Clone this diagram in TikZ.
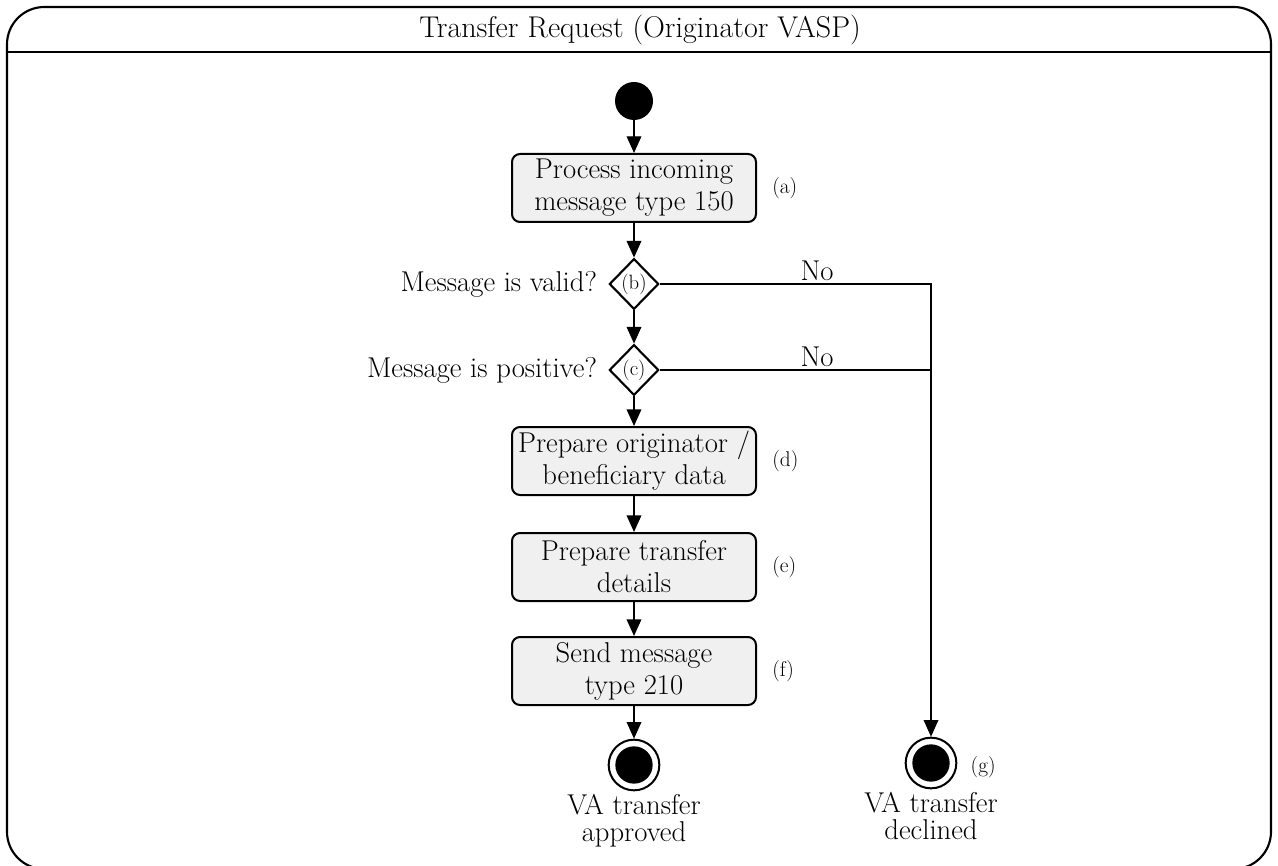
\documentclass[tikz,border=0pt]{standalone}
\usetikzlibrary{shapes.geometric,arrows.meta}
\begin{document}
\begin{tikzpicture}[x=0.75pt,y=-0.75pt,
  every node/.style={font=\fontsize{21.5}{24}\selectfont},
  flow/.style={line width=1pt,-{Triangle[width=11pt,length=12.5pt]}},
  plain/.style={line width=1pt},
  actbox/.style={draw,line width=1.5pt,rounded corners=6pt,fill=boxgray,
    minimum width=183pt,minimum height=51pt,align=center,inner sep=1pt},
  decide/.style={draw,diamond,line width=1.6pt,minimum width=37pt,minimum height=38pt,
    inner sep=0pt,font=\fontsize{15.5}{17}\selectfont},
  startdot/.style={circle,fill=black,minimum size=28.5pt,inner sep=0pt},
  endring/.style={circle,draw,line width=1.5pt,minimum size=38pt,inner sep=0pt},
  enddot/.style={circle,fill=black,minimum size=28pt,inner sep=0pt},
  tag/.style={font=\fontsize{16}{18}\selectfont,anchor=west},
  caption/.style={align=center,anchor=north,inner sep=1pt,font=\fontsize{21.5}{20.5}\selectfont}]
\definecolor{boxgray}{RGB}{240,240,240}
\useasboundingbox (0,0) rectangle (1278,866);
\clip (0,0) rectangle (1278,866);

% frame (its lower edge runs just past the page) and title
\draw[line width=1.6pt,rounded corners=28pt] (7,7) rectangle (1271,869);
\draw[line width=1pt] (7,52) -- (1271,52);
\node[font=\fontsize{22.5}{26}\selectfont] (title) at (640,30) {Transfer Request (Originator VASP)};

% activity nodes
\node[startdot] (start) at (634,101) {};
\node[actbox] (a) at (634,188) {Process incoming\\message type 150};
\node[decide] (b) at (634,284) {(b)};
\node[decide] (c) at (634,370) {(c)};
\node[actbox] (d) at (634,461) {Prepare originator /\\beneficiary data};
\node[actbox] (e) at (634,567) {Prepare transfer\\details};
\node[actbox] (f) at (634,671) {Send message\\type 210};
\node[endring] (ok) at (634,765) {};
\node[enddot] at (ok) {};
\node[endring] (no) at (931,763) {};
\node[enddot] at (no) {};

% side texts
\node[tag] (ta) at ([xshift=8pt]a.east) {(a)};
\node[tag] (td) at ([xshift=8pt]d.east) {(d)};
\node[tag] (te) at ([xshift=8pt]e.east) {(e)};
\node[tag] (tf) at ([xshift=8pt]f.east) {(f)};
\node[tag] (tg) at (966,767) {(g)};
\node[anchor=east] (qb) at ([xshift=-5pt]b.west) {Message is valid?};
\node[anchor=east] (qc) at ([xshift=-5pt]c.west) {Message is positive?};
\node[caption] (cok) at ([yshift=-1pt]ok.south) {VA transfer\\approved};
\node[caption] (cno) at ([yshift=-1pt]no.south) {VA transfer\\declined};

% control flow
\draw[flow] (start) -- (a);
\draw[flow] (a) -- (b);
\draw[flow] (b) -- (c);
\draw[flow] (c) -- (d);
\draw[flow] (d) -- (e);
\draw[flow] (e) -- (f);
\draw[flow] (f) -- (ok);
\draw[flow] (b.east) -| node[pos=0.29,above,inner sep=2pt] (nb) {No} (no.north);
\draw[plain] (c.east) -- node[pos=0.58,above,inner sep=2pt] (nc) {No} (c.east -| no.north);
\end{tikzpicture}
\end{document}
